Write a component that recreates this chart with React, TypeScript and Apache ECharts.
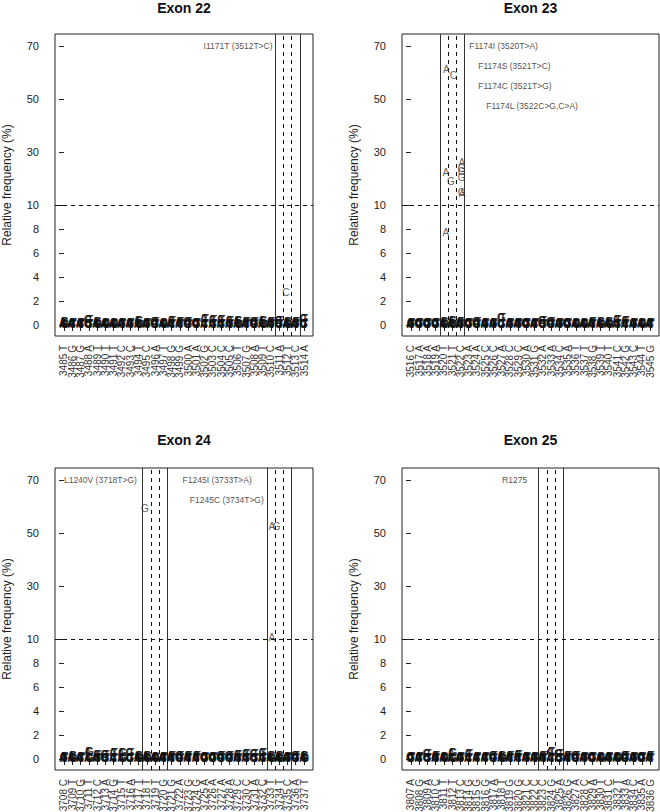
import React, { useEffect, useRef } from 'react';
import * as echarts from 'echarts';

// ---------- data ----------
const yTickValues = [0, 2, 4, 6, 8, 10, 30, 50, 70];

const exon22Labels = ['3485 T','3486 G','3487 G','3488 A','3489 T','3490 T','3491 T','3492 C','3493 C','3494 T','3495 C','3496 A','3497 T','3498 G','3499 G','3500 A','3501 A','3502 G','3503 C','3504 C','3505 C','3506 T','3507 G','3508 A','3509 T','3510 C','3511 A','3512 T','3513 C','3514 A'];
const exon22Peaks = [0.3,0.2,0.2,0.45,0.3,0.2,0.2,0.2,0.2,0.35,0.2,0.3,0.2,0.35,0.3,0.3,0.2,0.5,0.45,0.45,0.35,0.35,0.3,0.3,0.35,0.3,0.35,0.3,0.3,0.5];
const exon22CallPos = [26.8];
const exon22CallBase = ['C'];
const exon22CallFreq = [2.7];
const exon22NotePos = [25.2];
const exon22NoteFreq = [70];
const exon22NoteText = ['I1171T (3512T>C)'];
const exon22NoteSide = ['left'];
const exon22Solid = [25.5, 28.5];
const exon22Dashed = [26.5, 27.5];

const exon23Labels = ['3516 C','3517 A','3518 A','3519 A','3520 T','3521 T','3522 C','3523 A','3524 A','3525 C','3526 C','3527 A','3528 C','3529 C','3530 A','3531 G','3532 A','3533 A','3534 C','3535 A','3536 T','3537 T','3538 G','3539 T','3540 T','3541 C','3542 G','3543 C','3544 T','3545 G'];
const exon23Peaks = [0.2,0.2,0.2,0.2,0.3,0.35,0.3,0.2,0.3,0.2,0.2,0.6,0.2,0.2,0.2,0.2,0.35,0.3,0.2,0.2,0.2,0.2,0.3,0.3,0.3,0.45,0.35,0.2,0.2,0.2];
const exon23CallPos = [4.28, 5.13, 4.24, 4.85, 4.24, 6.16, 6.16, 6.16, 6.16, 6.16, 6.2];
const exon23CallBase = ['A', 'C', 'A', 'G', 'A', 'A', 'G', 'G', 'G', 'G', 'A'];
const exon23CallFreq = [61.3, 59, 22.4, 18.8, 7.7, 26, 23.8, 22.6, 20.3, 14.8, 14.5];
const exon23NotePos = [7.07, 8.16, 8.16, 9.13];
const exon23NoteFreq = [70, 62.5, 55, 47.5];
const exon23NoteText = ['F1174I (3520T>A)', 'F1174S (3521T>C)', 'F1174C (3521T>G)', 'F1174L (3522C>G,C>A)'];
const exon23NoteSide = ['right', 'right', 'right', 'right'];
const exon23Solid = [3.5, 6.5];
const exon23Dashed = [4.5, 5.5];

const exon24Labels = ['3708 C','3709 T','3710 G','3711 T','3712 C','3713 A','3714 G','3715 T','3716 A','3717 T','3718 T','3719 T','3720 G','3721 G','3722 A','3723 G','3724 G','3725 A','3726 A','3727 A','3728 A','3729 C','3730 C','3731 A','3732 C','3733 T','3734 T','3735 C','3736 A','3737 T'];
const exon24Peaks = [0.2,0.3,0.2,0.6,0.35,0.35,0.5,0.5,0.5,0.3,0.3,0.2,0.2,0.3,0.3,0.3,0.3,0.2,0.2,0.3,0.3,0.35,0.45,0.45,0.5,0.3,0.3,0.2,0.3,0.3];
const exon24CallPos = [9.78, 25.1, 25.7, 25.1];
const exon24CallBase = ['G', 'A', 'G', 'A'];
const exon24CallFreq = [59.4, 52.3, 52.6, 10.7];
const exon24NotePos = [8.82, 22.7, 24.15];
const exon24NoteFreq = [70, 70, 62.5];
const exon24NoteText = ['L1240V (3718T>G)', 'F1245I (3733T>A)', 'F1245C (3734T>G)'];
const exon24NoteSide = ['left', 'left', 'left'];
const exon24Solid = [9.5, 12.5, 24.5, 27.5];
const exon24Dashed = [10.5, 11.5, 25.5, 26.5];

const exon25Labels = ['3807 A','3808 G','3809 A','3810 C','3811 T','3812 T','3813 C','3814 G','3815 G','3816 G','3817 A','3818 T','3819 G','3820 G','3821 C','3822 C','3823 C','3824 G','3825 A','3826 G','3827 A','3828 C','3829 A','3830 T','3831 C','3832 T','3833 A','3834 C','3835 A','3836 G'];
const exon25Peaks = [0.2,0.2,0.45,0.3,0.2,0.5,0.2,0.45,0.2,0.2,0.3,0.3,0.3,0.35,0.2,0.2,0.3,0.65,0.45,0.3,0.3,0.2,0.2,0.2,0.2,0.2,0.3,0.2,0.2,0.3];
const exon25CallPos: number[] = [];
const exon25CallBase: string[] = [];
const exon25CallFreq: number[] = [];
const exon25NotePos = [14.1];
const exon25NoteFreq = [70];
const exon25NoteText = ['R1275'];
const exon25NoteSide = ['left'];
const exon25Solid = [15.5, 18.5];
const exon25Dashed = [16.5, 17.5];

const NOISE_LEVELS = [0.0, 0.15];
const THRESHOLD = 10;

// ---------- scale helpers ----------
const K = 2.65 / 12;
const toDisplay = (v: number) => (v <= 10 ? v : 10 + (v - 10) * K);
const fromDisplay = (d: number) => (d <= 10 ? d : 10 + (d - 10) / K);

const FONT = '"Liberation Sans", Arial, Helvetica, sans-serif';

type Panel = {
  title: string;
  labels: string[];
  peaks: number[];
  callPos: number[];
  callBase: string[];
  callFreq: number[];
  notePos: number[];
  noteFreq: number[];
  noteText: string[];
  noteSide: string[];
  solid: number[];
  dashed: number[];
};

const panels: Panel[] = [
  { title: 'Exon 22', labels: exon22Labels, peaks: exon22Peaks, callPos: exon22CallPos, callBase: exon22CallBase, callFreq: exon22CallFreq, notePos: exon22NotePos, noteFreq: exon22NoteFreq, noteText: exon22NoteText, noteSide: exon22NoteSide, solid: exon22Solid, dashed: exon22Dashed },
  { title: 'Exon 23', labels: exon23Labels, peaks: exon23Peaks, callPos: exon23CallPos, callBase: exon23CallBase, callFreq: exon23CallFreq, notePos: exon23NotePos, noteFreq: exon23NoteFreq, noteText: exon23NoteText, noteSide: exon23NoteSide, solid: exon23Solid, dashed: exon23Dashed },
  { title: 'Exon 24', labels: exon24Labels, peaks: exon24Peaks, callPos: exon24CallPos, callBase: exon24CallBase, callFreq: exon24CallFreq, notePos: exon24NotePos, noteFreq: exon24NoteFreq, noteText: exon24NoteText, noteSide: exon24NoteSide, solid: exon24Solid, dashed: exon24Dashed },
  { title: 'Exon 25', labels: exon25Labels, peaks: exon25Peaks, callPos: exon25CallPos, callBase: exon25CallBase, callFreq: exon25CallFreq, notePos: exon25NotePos, noteFreq: exon25NoteFreq, noteText: exon25NoteText, noteSide: exon25NoteSide, solid: exon25Solid, dashed: exon25Dashed },
];

const GRID_LEFT = [55, 402];
const GRID_TOP = [34, 468];
const GRID_W = [258, 257];
const GRID_H = 302;
const Y_MIN = -0.917;
const Y_MAX = 24.25;

function buildOption() {
  const grid: any[] = [];
  const xAxis: any[] = [];
  const yAxis: any[] = [];
  const series: any[] = [];
  const graphic: any[] = [];

  panels.forEach((p, k) => {
    const col = k % 2;
    const row = Math.floor(k / 2);
    const left = GRID_LEFT[col];
    const top = GRID_TOP[row];
    const width = GRID_W[col];
    const n = p.labels.length;
    const idx = p.labels.map((_, i) => i);

    grid.push({
      left, top, width, height: GRID_H,
      show: true, borderColor: '#222', borderWidth: 1, backgroundColor: 'transparent',
      containLabel: false, outerBoundsMode: 'none',
    });

    // two bottom x axes on the same grid: even-indexed labels and odd-indexed labels,
    // so that dense rotated labels are never dropped by overlap handling
    [0, 1].forEach((parity) => {
      const labelIdx = idx.filter((i) => i % 2 === parity);
      xAxis.push({
        type: 'value', gridIndex: k, position: 'bottom',
        min: -1.087, max: n - 1 + 1.087,
        offset: 1,
        axisLine: { show: false },
        splitLine: { show: false },
        axisTick: { show: parity === 0, length: 6, customValues: idx, lineStyle: { color: '#222', width: 1 } },
        axisLabel: {
          show: true, customValues: labelIdx, rotate: 90, margin: 8,
          showMinLabel: true, showMaxLabel: true, hideOverlap: false,
          fontSize: 10, color: '#333', fontFamily: FONT,
          formatter: (v: number) => p.labels[Math.round(v)] ?? '',
        },
      });
    });

    const tickDisplay = yTickValues.map(toDisplay);
    yAxis.push({
      type: 'value', gridIndex: k, position: 'left',
      min: Y_MIN, max: Y_MAX,
      offset: 2,
      name: 'Relative frequency (%)', nameLocation: 'middle', nameGap: 40, nameRotate: 90,
      nameMoveOverlap: false,
      nameTextStyle: { fontSize: 12, color: '#222', fontFamily: FONT },
      axisLine: { show: false },
      splitLine: { show: false },
      axisTick: { show: true, length: 5, customValues: tickDisplay, lineStyle: { color: '#222', width: 1 } },
      axisLabel: {
        show: true, customValues: tickDisplay, margin: 14,
        showMinLabel: true, showMaxLabel: true,
        fontSize: 11, color: '#222', fontFamily: FONT,
        formatter: (v: number) => String(Math.round(fromDisplay(v))),
      },
    });

    const xi = 2 * k;

    // background noise letters (alternate bases at low frequency)
    const noiseData: any[] = [];
    p.labels.forEach((lab, i) => {
      const ref = lab.split(' ')[1];
      const alts = ['A', 'C', 'G', 'T'].filter((b) => b !== ref);
      [...NOISE_LEVELS, p.peaks[i]].forEach((lvl) => {
        alts.forEach((b, j) => {
          noiseData.push([i + (j - 1) * 0.14, toDisplay(lvl), b]);
        });
      });
    });

    const lineData: any[] = [
      ...p.solid.map((v) => ({ xAxis: v, lineStyle: { type: 'solid', color: '#333', width: 1 } })),
      ...p.dashed.map((v) => ({ xAxis: v, lineStyle: { type: [4, 4], color: '#111', width: 1 } })),
      { yAxis: toDisplay(THRESHOLD), lineStyle: { type: [4, 4], color: '#111', width: 1 } },
    ];

    series.push({
      type: 'scatter', xAxisIndex: xi, yAxisIndex: k,
      data: noiseData,
      symbol: 'circle', symbolSize: 0.1,
      itemStyle: { color: 'rgba(0,0,0,0)' },
      silent: true,
      label: {
        show: true, position: 'inside', formatter: (q: any) => q.value[2],
        fontSize: 10, fontWeight: 'bold', color: '#111', fontFamily: FONT,
      },
      markLine: { silent: true, symbol: ['none', 'none'], label: { show: false }, data: lineData, z: 1 },
      z: 3,
    });

    // variant calls
    series.push({
      type: 'scatter', xAxisIndex: xi, yAxisIndex: k,
      data: p.callPos.map((x, i) => [x, toDisplay(p.callFreq[i]), p.callBase[i]]),
      symbol: 'circle', symbolSize: 0.1,
      itemStyle: { color: 'rgba(0,0,0,0)' },
      silent: true,
      label: {
        show: true, position: 'inside', formatter: (q: any) => q.value[2],
        fontSize: 10, color: '#333', fontFamily: FONT,
      },
      z: 4,
    });

    // annotations
    series.push({
      type: 'scatter', xAxisIndex: xi, yAxisIndex: k,
      data: p.notePos.map((x, i) => ({
        value: [x, toDisplay(p.noteFreq[i]), p.noteText[i]],
        label: { position: p.noteSide[i] },
      })),
      symbol: 'circle', symbolSize: 0.1,
      itemStyle: { color: 'rgba(0,0,0,0)' },
      silent: true,
      label: {
        show: true, distance: 0, formatter: (q: any) => q.value[2],
        fontSize: 8.5, color: '#222', fontFamily: FONT,
      },
      z: 4,
    });

    graphic.push({
      type: 'text',
      x: left + width / 2,
      y: row === 0 ? 7.5 : 440,
      style: {
        text: p.title, fill: '#111',
        font: `bold 14px ${FONT}`,
        textAlign: 'center', textVerticalAlign: 'middle',
      },
    });
  });

  return {
    animation: false,
    backgroundColor: '#fff',
    textStyle: { fontFamily: FONT },
    grid, xAxis, yAxis, series, graphic,
  };
}

export default function App() {
  const ref = useRef<HTMLDivElement>(null);
  useEffect(() => {
    if (!ref.current) return;
    const chart = echarts.init(ref.current, undefined, { renderer: 'svg' });
    chart.setOption(buildOption() as any);
    return () => chart.dispose();
  }, []);
  return (
    <div
      ref={ref}
      style={{ position: 'fixed', left: 0, top: 0, width: 660, height: 812, background: '#fff' }}
    />
  );
}
